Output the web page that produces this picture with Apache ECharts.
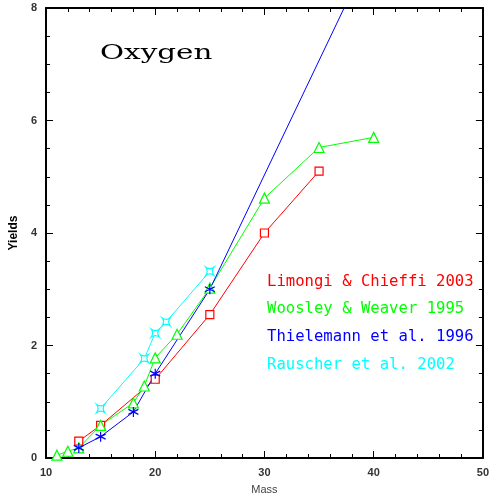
<!DOCTYPE html>
<html><head><meta charset="utf-8">
<script src="https://cdn.jsdelivr.net/npm/echarts@6/dist/echarts.min.js"></script>
<style>html,body{margin:0;padding:0;background:#fff}#c{width:492px;height:501px}</style>
</head><body><div id="c"></div>
<script>
const seriesNames = ['Limongi & Chieffi 2003','Woosley & Weaver 1995','Thielemann et al. 1996','Rauscher et al. 2002'];
const seriesColors = ['#ff0000','#00ff00','#0000ff','#00ffff'];
const limongiMass = [13,15,20,25,30,35];
const limongiYield = [0.30,0.58,1.40,2.55,4.00,5.10];
const woosleyMass = [11,12,13,15,18,19,20,22,25,30,35,40];
const woosleyYield = [0.05,0.12,0.18,0.58,0.98,1.28,1.78,2.20,3.02,4.62,5.52,5.70];
const thielemannMass = [13,15,18,20,25,40];
const thielemannYield = [0.18,0.38,0.82,1.50,3.00,9.10];
const rauscherMass = [15,19,20,21,25];
const rauscherYield = [0.88,1.77,2.22,2.42,3.32];
const xTicks = [10,20,30,40,50];
const yTicks = [0,2,4,6,8];
const titleText = 'Oxygen';

const starPath = 'path://M0,-10L0,10M-8.66,-5L8.66,5M-8.66,5L8.66,-5';
const fourStar = 'path://M-10,-10Q0,-3 10,-10Q3,0 10,10Q0,3 -10,10Q-3,0 -10,-10Z';

function pairs(xs, ys){ return xs.map((x,i)=>[x, ys[i]]); }

const chart = echarts.init(document.getElementById('c'), null, {renderer:'canvas'});
const tickColor = '#000';
function xAxisDef(pos){
  return {
    type:'value', position:pos, min:xTicks[0], max:xTicks[xTicks.length-1], interval:10,
    axisLine:{show:true, onZero:false, lineStyle:{color:'#000', width:2}},
    axisTick:{show:true, inside:true, length:7, lineStyle:{color:tickColor}},
    minorTick:{show:true, splitNumber:5, length:4, lineStyle:{color:tickColor}},
    splitLine:{show:false},
    axisLabel:{show:pos==='bottom', margin:9, color:'#333', fontSize:11, fontWeight:'bold', fontFamily:'Liberation Sans'},
    name: pos==='bottom' ? 'Mass' : '', nameLocation:'middle', nameGap:26,
    nameTextStyle:{color:'#444', fontSize:11, fontFamily:'Liberation Sans'}
  };
}
function yAxisDef(pos){
  return {
    type:'value', position:pos, min:yTicks[0], max:yTicks[yTicks.length-1], interval:2,
    axisLine:{show:true, onZero:false, lineStyle:{color:'#000', width:2}},
    axisTick:{show:true, inside:true, length:7, lineStyle:{color:tickColor}},
    minorTick:{show:true, splitNumber:4, length:4, lineStyle:{color:tickColor}},
    splitLine:{show:false},
    axisLabel:{show:pos==='left', margin:9, color:'#333', fontSize:11, fontWeight:'bold', fontFamily:'Liberation Sans'},
    name: pos==='left' ? 'Yields' : '', nameLocation:'middle', nameGap:18, nameRotate:90,
    nameTextStyle:{color:'#000', fontSize:12, fontWeight:'bold', fontFamily:'Liberation Sans'}
  };
}

const symbolDefs = [
  {symbol:'rect', size:8, fill:'#fff'},
  {symbol:'triangle', size:10, fill:'#fff'},
  {symbol:starPath, size:10, fill:'none'},
  {symbol:fourStar, size:8, fill:'#fff'}
];
const dataSets = [pairs(limongiMass,limongiYield), pairs(woosleyMass,woosleyYield), pairs(thielemannMass,thielemannYield), pairs(rauscherMass,rauscherYield)];

const series = dataSets.map((d,i)=>({
  type:'line', name:seriesNames[i], data:d, xAxisIndex:0, yAxisIndex:0,
  symbol:symbolDefs[i].symbol, symbolSize:symbolDefs[i].size, showAllSymbol:true,
  lineStyle:{color:seriesColors[i], width:1},
  itemStyle:{color:symbolDefs[i].fill==='none'?seriesColors[i]:symbolDefs[i].fill, borderColor:seriesColors[i], borderWidth:1.2},
  emphasis:{disabled:true}, animation:false, clip:true
}));

const legendTop = [275, 302, 330, 358];
const graphics = seriesNames.map((n,i)=>({
  type:'text', left:267, top:legendTop[i], scaleX:1.04,
  style:{text:n, fill:seriesColors[i], font:'15px "DejaVu Sans Mono"'}
}));
graphics.push({type:'text', left:100, top:44, scaleX:1.47, style:{text:titleText, fill:'#000', font:'20px "DejaVu Serif"'}});

chart.setOption({
  animation:false,
  backgroundColor:'#fff',
  grid:{left:43, top:8, right:5, bottom:43, containLabel:false},
  xAxis:[xAxisDef('bottom'), xAxisDef('top')],
  yAxis:[yAxisDef('left'), yAxisDef('right')],
  series:series,
  graphic:graphics
});
</script></body></html>
